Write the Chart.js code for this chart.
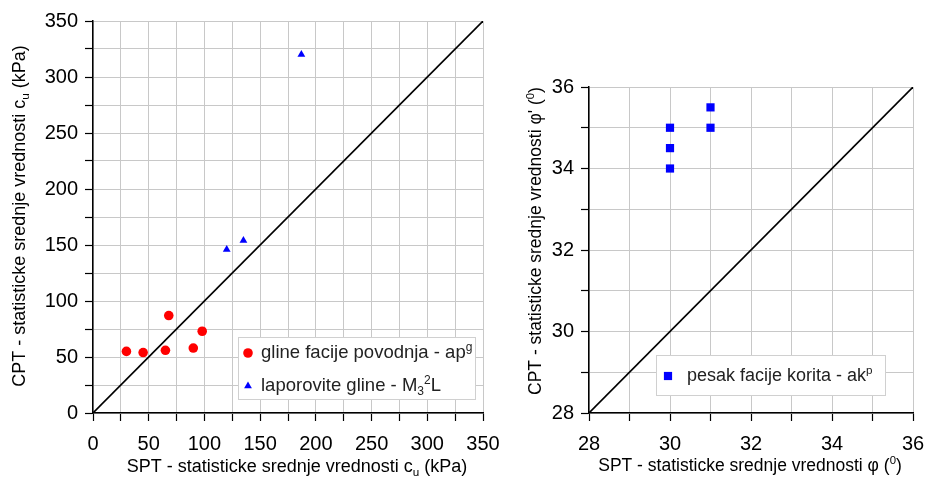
<!DOCTYPE html>
<html>
<head>
<meta charset="utf-8">
<script src="https://cdn.jsdelivr.net/npm/chart.js@4.4.1/dist/chart.umd.min.js"></script>
<style>
  html, body { margin: 0; padding: 0; background: #fff; }
  .wrap { position: absolute; top: 0; height: 478px; }
  #w1 { left: 0; width: 510px; }
  #w2 { left: 490px; width: 436px; }
</style>
</head>
<body>
<div class="wrap" id="w1"><canvas id="cuChart" width="510" height="478"></canvas></div>
<div class="wrap" id="w2"><canvas id="phiChart" width="436" height="478"></canvas></div>
<script>
// c_u (kPa): SPT vs CPT
const clayFloodX = [30, 45, 65, 68, 90, 98];
const clayFloodY = [55, 54, 56, 87, 58, 73];
const marlClayX = [120, 135, 187];
const marlClayY = [146, 154, 320];
const cuLine = [0, 350];

// phi (deg): SPT vs CPT
const sandX = [30, 30, 30, 31, 31];
const sandY = [35, 34.5, 34, 35.5, 35];
const phiLine = [28, 36];

const FONT = "'Liberation Sans', Arial, sans-serif";
const GRID = "#c8c8c8";

const pts = (xs, ys) => xs.map((x, i) => ({ x, y: ys[i] }));

// text with ^x (superscript) and _x (subscript) markup
function richParts(str) {
    const parts = [];
    for (let i = 0; i < str.length; i++) {
        const c = str[i];
        if ((c === "^" || c === "_") && i + 1 < str.length) {
            parts.push({ t: str[i + 1], k: c });
            i++;
        } else {
            const last = parts[parts.length - 1];
            if (last && !last.k) last.t += c; else parts.push({ t: c, k: null });
        }
    }
    return parts;
}

function drawRich(ctx, str, x, y, size, align) {
    const parts = richParts(str);
    const small = size * 0.65;
    let w = 0;
    parts.forEach(p => {
        ctx.font = (p.k ? small : size) + "px " + FONT;
        p.w = ctx.measureText(p.t).width;
        w += p.w;
    });
    let cx = align === "center" ? x - w / 2 : x;
    ctx.textBaseline = "middle";
    ctx.textAlign = "left";
    parts.forEach(p => {
        ctx.font = (p.k ? small : size) + "px " + FONT;
        let dy = 0;
        if (p.k === "^") dy = -size * 0.3;
        if (p.k === "_") dy = size * 0.3;
        ctx.fillText(p.t, cx, y + dy);
        cx += p.w;
    });
}

function drawMarker(ctx, style, x, y, r, color) {
    ctx.fillStyle = color;
    ctx.beginPath();
    if (style === "circle") {
        ctx.arc(x, y, r, 0, Math.PI * 2);
    } else if (style === "triangle") {
        for (let k = 0; k < 3; k++) {
            const a = k * 2 * Math.PI / 3;
            const px = x + Math.sin(a) * r, py = y - Math.cos(a) * r;
            k ? ctx.lineTo(px, py) : ctx.moveTo(px, py);
        }
        ctx.closePath();
    } else {
        const s = r * Math.SQRT1_2;
        ctx.rect(x - s, y - s, 2 * s, 2 * s);
    }
    ctx.fill();
}

// axis titles + boxed legend inside the plot
const decor = {
    id: "decor",
    afterDraw(chart, args, o) {
        const ctx = chart.ctx;
        ctx.save();
        ctx.fillStyle = "#000";
        drawRich(ctx, o.xTitle, o.xTitlePos[0], o.xTitlePos[1], o.titleSize, "center");
        ctx.translate(o.yTitlePos[0], o.yTitlePos[1]);
        ctx.rotate(-Math.PI / 2);
        drawRich(ctx, o.yTitle, 0, 0, o.titleSize, "center");
        ctx.restore();

        const b = o.legendBox;
        ctx.save();
        ctx.fillStyle = "#fff";
        ctx.strokeStyle = "#d0d0d0";
        ctx.lineWidth = 1;
        ctx.fillRect(b[0], b[1], b[2], b[3]);
        ctx.strokeRect(b[0] + 0.5, b[1] + 0.5, b[2], b[3]);
        let row = 0;
        chart.data.datasets.forEach(ds => {
            if (!ds.legendText) return;
            const y = o.legendRows[row++];
            drawMarker(ctx, ds.pointStyle, b[0] + o.markerDx, y, ds.pointRadius, ds.backgroundColor);
            ctx.fillStyle = "#222";
            drawRich(ctx, ds.legendText, b[0] + o.textDx, y, o.legendSize, "left");
        });
        ctx.restore();
    }
};

function axis(min, max, step, labelEvery, fixed, tickPad) {
    return {
        type: "linear",
        min, max,
        afterFit: s => {
            if (fixed.w) s.width = fixed.w;
            if (fixed.h) s.height = fixed.h;
            s.paddingLeft = s.paddingRight = s.paddingTop = s.paddingBottom = 0;
        },
        border: { color: "#000", width: 1.5 },
        grid: { color: GRID, lineWidth: 1, tickLength: 8, tickColor: "#000", tickWidth: 1.2 },
        ticks: {
            stepSize: step,
            padding: tickPad,
            autoSkip: false,
            maxRotation: 0,
            minRotation: 0,
            color: "#000",
            font: { family: FONT, size: 20 },
            callback: v => (Math.abs(v / labelEvery - Math.round(v / labelEvery)) < 1e-6 ? v : "")
        },
        title: { display: false }
    };
}

function makeScatter(canvasId, datasets, xr, yr, pad, yw, decorOpts) {
    return new Chart(document.getElementById(canvasId), {
        type: "scatter",
        data: { datasets },
        options: {
            responsive: false,
            animation: false,
            layout: { padding: pad },
            plugins: { legend: { display: false }, tooltip: { enabled: false }, decor: decorOpts },
            scales: {
                x: axis(xr[0], xr[1], xr[2], xr[3], { h: 65 }, 11),
                y: axis(yr[0], yr[1], yr[2], yr[3], { w: yw }, 7)
            }
        },
        plugins: [decor]
    });
}

const lineSet = ends => ({
    type: "line",
    data: pts(ends, ends),
    borderColor: "#000",
    borderWidth: 1.6,
    pointRadius: 0,
    order: 2
});

makeScatter("cuChart", [
    lineSet(cuLine),
    { legendText: "gline facije povodnja - ap^g", data: pts(clayFloodX, clayFloodY),
      backgroundColor: "#ff0000", borderWidth: 0, pointStyle: "circle", pointRadius: 4.8, order: 1 },
    { legendText: "laporovite gline - M_3^2L", data: pts(marlClayX, marlClayY),
      backgroundColor: "#0000ff", borderWidth: 0, pointStyle: "triangle", pointRadius: 4.5, order: 1 }
], [0, 350, 25, 50], [0, 350, 25, 50], { top: 21, right: 27, left: 0, bottom: 0 }, 93, {
    xTitle: "SPT - statisticke srednje vrednosti c_u (kPa)",
    yTitle: "CPT - statisticke srednje vrednosti c_u (kPa)",
    xTitlePos: [297, 467], yTitlePos: [20, 216], titleSize: 18,
    legendBox: [238, 337, 237, 62], legendRows: [353, 386], markerDx: 10, textDx: 23, legendSize: 18.5
});

makeScatter("phiChart", [
    lineSet(phiLine),
    { legendText: "pesak facije korita - ak^p", data: pts(sandX, sandY),
      backgroundColor: "#0000ff", borderWidth: 0, pointStyle: "rect", pointRadius: 5.8, order: 1 }
], [28, 36, 1, 2], [28, 36, 1, 2], { top: 87, right: 13, left: 0, bottom: 0 }, 99, {
    xTitle: "SPT - statisticke srednje vrednosti \u03c6 (^0)",
    yTitle: "CPT - statisticke srednje vrednosti \u03c6' (^0)",
    xTitlePos: [260, 466], yTitlePos: [46, 241], titleSize: 17.5,
    legendBox: [166, 355, 229, 40], legendRows: [376], markerDx: 12, textDx: 31, legendSize: 18
});
</script>
</body>
</html>
